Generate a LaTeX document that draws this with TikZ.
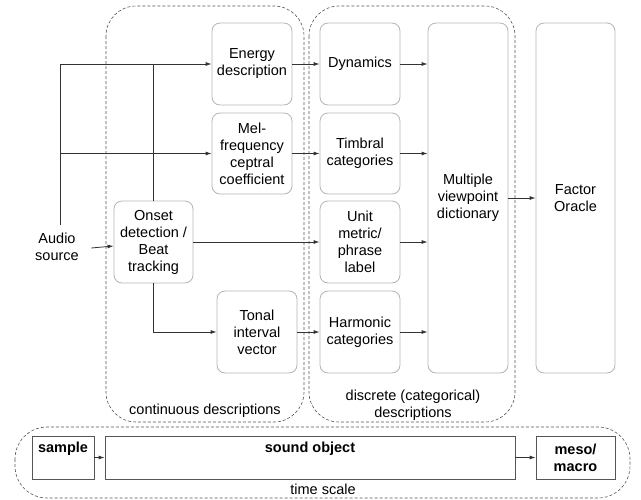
\documentclass[tikz,border=0pt]{standalone}
\usepackage{fontspec}
\setmainfont{Liberation Sans}
\usetikzlibrary{arrows.meta}
\definecolor{boxgray}{HTML}{B4B4B4}
\definecolor{dashgray}{HTML}{555555}
\definecolor{linegray}{HTML}{333333}
\tikzset{
  every node/.style={font=\fontsize{14.5}{17}\selectfont},
  rbox/.style={draw=boxgray, line width=0.8pt, rounded corners=8pt, align=center, inner sep=0pt},
  sbox/.style={draw=dashgray, line width=0.8pt, inner sep=0pt},
  group/.style={draw=dashgray, dashed, dash pattern=on 3pt off 2pt, line width=0.6pt},
  arr/.style={draw=linegray, line width=0.8pt, -{Latex[length=6pt,width=4pt]}},
  ln/.style={draw=linegray, line width=0.8pt},
}
\begin{document}
\begin{tikzpicture}[x=1pt,y=-1pt]
\useasboundingbox (0,0) rectangle (641,499);
% group containers
\draw[group, rounded corners=30pt] (106,6) rectangle (304,422);
\draw[group, rounded corners=30pt] (309,6) rectangle (515,422);
\draw[group, rounded corners=32pt] (15,427) rectangle (630,498);
\node (contlab) at (205,411) {continuous descriptions};
\node[align=center] (disclab) at (413,405) {discrete (categorical)\\descriptions};
\node (tslab) at (323,489) {time scale};
% continuous boxes
\node[rbox, minimum width=80pt, minimum height=82pt] (energy) at (252,64) {Energy\\description};
\node[rbox, minimum width=80pt, minimum height=81pt] (mel) at (252,153.5) {Mel-\\frequency\\ceptral\\coefficient};
\node[rbox, minimum width=79pt, minimum height=82pt] (onset) at (153.5,242) {Onset\\detection /\\Beat\\tracking};
\node[rbox, minimum width=80pt, minimum height=82pt] (tonal) at (257,332) {Tonal\\interval\\vector};
% discrete boxes
\node[rbox, minimum width=80pt, minimum height=82pt] (dyn) at (360,64) {Dynamics};
\node[rbox, minimum width=80pt, minimum height=81pt] (timb) at (360,153.5) {Timbral\\categories};
\node[rbox, minimum width=80pt, minimum height=82pt] (unit) at (360,242) {Unit\\metric/\\phrase\\label};
\node[rbox, minimum width=80pt, minimum height=82pt] (harm) at (360,332) {Harmonic\\categories};
\node[rbox, minimum width=80pt, minimum height=350pt] (mvd) at (468,198) {Multiple\\viewpoint\\dictionary};
\node[rbox, minimum width=79pt, minimum height=350pt] (fo) at (575.5,198) {Factor\\Oracle};
% audio source
\node[align=center] (audio) at (57,247) {Audio\\source};
\coordinate (split) at (60,225);
% time scale boxes
\node[sbox, minimum width=62pt, minimum height=43pt, label={[font=\fontsize{14.5}{17}\selectfont\bfseries, anchor=north, yshift=-3pt]north:sample}] (sample) at (63,457.5) {};
\node[sbox, minimum width=410pt, minimum height=43pt, label={[font=\fontsize{14.5}{17}\selectfont\bfseries, anchor=north, yshift=-3pt]north:sound object}] (sobj) at (310,457.5) {};
\node[sbox, minimum width=79pt, minimum height=43pt, align=center, font=\fontsize{14.5}{17}\selectfont\bfseries] (meso) at (575.5,457.5) {meso/\\macro};
% connectors
\draw[ln] (split) -- (split |- energy.west);
\draw[arr] (split |- energy.west) -- (energy.west);
\draw[arr] (split |- mel.west) -- (mel.west);
\draw[ln] (onset.north) -- (onset.north |- energy.west);
\draw[arr] ([xshift=9pt,yshift=-1pt]audio.east) -- ([yshift=-4pt]onset.west);
\draw[arr] (onset.east |- unit.west) -- (unit.west);
\draw[arr] (onset.south) |- (tonal.west);
\draw[arr] (energy.east) -- (dyn.west);
\draw[arr] (mel.east) -- (timb.west);
\draw[arr] (tonal.east) -- (harm.west);
\draw[arr] (dyn.east) -- (dyn.east -| mvd.west);
\draw[arr] (timb.east) -- (timb.east -| mvd.west);
\draw[arr] (unit.east) -- (unit.east -| mvd.west);
\draw[arr] (harm.east) -- (harm.east -| mvd.west);
\draw[arr] (mvd.east) -- (fo.west);
\draw[arr] (sample.east) -- (sobj.west);
\draw[arr] (sobj.east) -- (meso.west);
\end{tikzpicture}
\end{document}
